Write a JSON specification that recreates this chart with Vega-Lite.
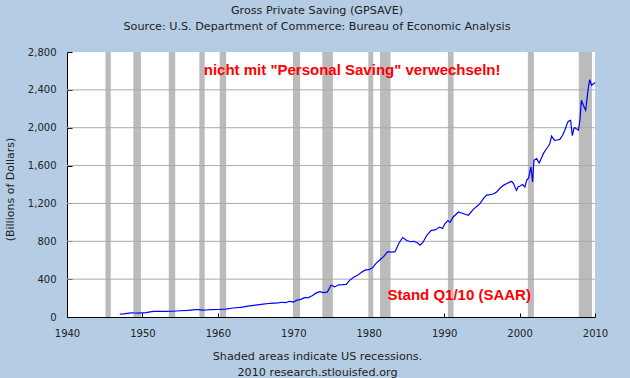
{
  "$schema": "https://vega.github.io/schema/vega-lite/v6.json",
  "autosize": {"type": "none"},
  "width": 528,
  "height": 265,
  "padding": {"left": 67, "top": 52, "right": 35, "bottom": 61},
  "background": "#B4CDE4",
  "title": {
    "text": ["Gross Private Saving (GPSAVE)", "Source: U.S. Department of Commerce: Bureau of Economic Analysis"],
    "font": "DejaVu Sans",
    "fontSize": 11.2,
    "fontWeight": "normal",
    "color": "#222222",
    "anchor": "middle",
    "frame": "group",
    "dx": -14,
    "offset": 15,
    "lineHeight": 16
  },
  "datasets": {
    "rec": [
      {"year": 1945.1, "year2": 1945.8},
      {"year": 1948.8, "year2": 1949.8},
      {"year": 1953.5, "year2": 1954.35},
      {"year": 1957.55, "year2": 1958.25},
      {"year": 1960.25, "year2": 1961.1},
      {"year": 1969.95, "year2": 1970.9},
      {"year": 1973.85, "year2": 1975.25},
      {"year": 1979.95, "year2": 1980.6},
      {"year": 1981.5, "year2": 1982.9},
      {"year": 1990.5, "year2": 1991.25},
      {"year": 2001.1, "year2": 2001.9},
      {"year": 2007.85, "year2": 2009.6}
    ],
    "grid": [
      {"value": 400}, {"value": 800}, {"value": 1200}, {"value": 1600},
      {"value": 2000}, {"value": 2400}
    ],
    "gps": [
      {"year": 1947.0, "value": 30}, {"year": 1947.5, "value": 33}, {"year": 1948.0, "value": 38},
      {"year": 1948.5, "value": 43}, {"year": 1949.0, "value": 42}, {"year": 1949.5, "value": 40},
      {"year": 1950.0, "value": 44}, {"year": 1950.5, "value": 47}, {"year": 1951.0, "value": 55},
      {"year": 1951.5, "value": 59}, {"year": 1952.0, "value": 59}, {"year": 1953.0, "value": 60},
      {"year": 1954.0, "value": 61}, {"year": 1955.0, "value": 66}, {"year": 1956.0, "value": 70},
      {"year": 1957.0, "value": 77}, {"year": 1957.5, "value": 78}, {"year": 1958.0, "value": 72},
      {"year": 1958.5, "value": 74}, {"year": 1959.0, "value": 78}, {"year": 1960.0, "value": 79},
      {"year": 1961.0, "value": 84}, {"year": 1962.0, "value": 95}, {"year": 1963.0, "value": 102},
      {"year": 1964.0, "value": 115}, {"year": 1965.0, "value": 125}, {"year": 1966.0, "value": 136},
      {"year": 1967.0, "value": 145}, {"year": 1968.0, "value": 150}, {"year": 1968.5, "value": 156},
      {"year": 1969.0, "value": 152}, {"year": 1969.5, "value": 166}, {"year": 1970.0, "value": 158},
      {"year": 1970.5, "value": 178}, {"year": 1971.0, "value": 186}, {"year": 1971.5, "value": 204},
      {"year": 1972.0, "value": 205}, {"year": 1972.5, "value": 224}, {"year": 1973.0, "value": 252},
      {"year": 1973.5, "value": 268}, {"year": 1974.0, "value": 258}, {"year": 1974.5, "value": 262},
      {"year": 1975.0, "value": 335}, {"year": 1975.5, "value": 318}, {"year": 1976.0, "value": 340},
      {"year": 1976.5, "value": 342}, {"year": 1977.0, "value": 345}, {"year": 1977.5, "value": 390},
      {"year": 1978.0, "value": 420}, {"year": 1978.5, "value": 440}, {"year": 1979.0, "value": 470},
      {"year": 1979.5, "value": 495}, {"year": 1980.0, "value": 500}, {"year": 1980.5, "value": 520},
      {"year": 1981.0, "value": 570}, {"year": 1981.5, "value": 605}, {"year": 1982.0, "value": 640},
      {"year": 1982.5, "value": 690}, {"year": 1983.0, "value": 685}, {"year": 1983.5, "value": 690},
      {"year": 1984.0, "value": 780}, {"year": 1984.5, "value": 840}, {"year": 1985.0, "value": 810},
      {"year": 1985.5, "value": 795}, {"year": 1986.0, "value": 800}, {"year": 1986.5, "value": 782},
      {"year": 1986.8, "value": 758}, {"year": 1987.2, "value": 790}, {"year": 1987.7, "value": 864},
      {"year": 1988.3, "value": 915}, {"year": 1988.8, "value": 920}, {"year": 1989.4, "value": 950},
      {"year": 1989.8, "value": 935}, {"year": 1990.1, "value": 985}, {"year": 1990.5, "value": 1020},
      {"year": 1990.8, "value": 1000}, {"year": 1991.2, "value": 1057}, {"year": 1991.9, "value": 1110},
      {"year": 1992.5, "value": 1093}, {"year": 1993.2, "value": 1075}, {"year": 1993.9, "value": 1140},
      {"year": 1994.5, "value": 1180}, {"year": 1994.75, "value": 1198}, {"year": 1995.2, "value": 1250},
      {"year": 1995.6, "value": 1286}, {"year": 1996.5, "value": 1300}, {"year": 1996.96, "value": 1321},
      {"year": 1997.4, "value": 1360}, {"year": 1997.85, "value": 1391}, {"year": 1998.3, "value": 1410},
      {"year": 1998.7, "value": 1425}, {"year": 1998.95, "value": 1434}, {"year": 1999.2, "value": 1410},
      {"year": 1999.4, "value": 1370}, {"year": 1999.6, "value": 1339}, {"year": 1999.8, "value": 1375},
      {"year": 2000.05, "value": 1384}, {"year": 2000.4, "value": 1400}, {"year": 2000.7, "value": 1373},
      {"year": 2000.94, "value": 1444}, {"year": 2001.2, "value": 1470}, {"year": 2001.5, "value": 1585},
      {"year": 2001.73, "value": 1426}, {"year": 2001.9, "value": 1656}, {"year": 2002.26, "value": 1673},
      {"year": 2002.6, "value": 1627}, {"year": 2002.9, "value": 1680}, {"year": 2003.15, "value": 1726},
      {"year": 2003.5, "value": 1770}, {"year": 2003.8, "value": 1804}, {"year": 2004.0, "value": 1830},
      {"year": 2004.25, "value": 1912}, {"year": 2004.5, "value": 1880}, {"year": 2004.7, "value": 1867},
      {"year": 2005.0, "value": 1870}, {"year": 2005.35, "value": 1877}, {"year": 2005.7, "value": 1920},
      {"year": 2006.0, "value": 1973}, {"year": 2006.25, "value": 2030}, {"year": 2006.46, "value": 2068},
      {"year": 2006.77, "value": 2078}, {"year": 2006.99, "value": 1917}, {"year": 2007.2, "value": 1990},
      {"year": 2007.34, "value": 2001}, {"year": 2007.6, "value": 1985}, {"year": 2007.8, "value": 1973},
      {"year": 2008.0, "value": 2078}, {"year": 2008.2, "value": 2290}, {"year": 2008.45, "value": 2237},
      {"year": 2008.76, "value": 2184}, {"year": 2009.1, "value": 2413}, {"year": 2009.3, "value": 2508},
      {"year": 2009.55, "value": 2448}, {"year": 2009.8, "value": 2465}, {"year": 2010.0, "value": 2477}
    ],
    "notes": [
      {"year": 1977.8, "value": 2560, "label": "nicht mit \"Personal Saving\" verwechseln!"},
      {"year": 1992.0, "value": 180, "label": "Stand Q1/10 (SAAR)"}
    ]
  },
  "layer": [
    {
      "data": {"name": "rec"},
      "mark": {"type": "rect", "color": "#BBBBBB", "opacity": 1},
      "encoding": {
        "x": {"field": "year", "type": "quantitative", "scale": {"domain": [1940, 2010], "nice": false, "zero": false},
          "axis": {
            "values": [1940, 1950, 1960, 1970, 1980, 1990, 2000, 2010],
            "format": "d",
            "grid": false,
            "domainColor": "#000000",
            "tickColor": "#000000",
            "tickSize": -4,
            "labelPadding": 15,
            "labelFont": "DejaVu Sans",
            "labelFontSize": 10,
            "labelColor": "#222222",
            "labelFlush": false,
            "labelOverlap": false,
            "title": ["Shaded areas indicate US recessions.", "2010 research.stlouisfed.org"],
            "titleFont": "DejaVu Sans",
            "titleFontSize": 11.2,
            "titleFontWeight": "normal",
            "titleColor": "#222222",
            "titleX": 250,
            "titleY": 33,
            "titleBaseline": "top",
            "titleAlign": "center",
            "titleAnchor": null,
            "titleLineHeight": 16
          }
        },
        "x2": {"field": "year2"}
      }
    },
    {
      "data": {"name": "grid"},
      "mark": {"type": "rule", "color": "#AAAAAA", "strokeWidth": 1},
      "encoding": {
        "y": {"field": "value", "type": "quantitative", "scale": {"domain": [0, 2800], "nice": false, "zero": true},
          "axis": {
            "values": [0, 400, 800, 1200, 1600, 2000, 2400, 2800],
            "format": ",d",
            "grid": false,
            "domainColor": "#000000",
            "tickColor": "#000000",
            "tickSize": -5,
            "labelPadding": 16,
            "labelOverlap": false,
            "labelFont": "DejaVu Sans",
            "labelFontSize": 10,
            "labelColor": "#222222",
            "title": "(Billions of Dollars)",
            "titleFont": "DejaVu Sans",
            "titleFontSize": 11,
            "titleFontWeight": "normal",
            "titleColor": "#222222",
            "titleAngle": -90,
            "titleX": -57,
            "titleY": 137,
            "titleAlign": "center",
            "titleBaseline": "middle",
            "titleAnchor": null
          }
        }
      }
    },
    {
      "data": {"name": "gps"},
      "mark": {"type": "line", "color": "#0000FF", "strokeWidth": 1.2},
      "encoding": {
        "x": {"field": "year", "type": "quantitative"},
        "y": {"field": "value", "type": "quantitative",
          "axis": {
            "values": [0, 400, 800, 1200, 1600, 2000, 2400, 2800],
            "format": ",d",
            "grid": false,
            "domainColor": "#000000",
            "tickColor": "#000000",
            "tickSize": -5,
            "labelPadding": 16,
            "labelOverlap": false,
            "labelFont": "DejaVu Sans",
            "labelFontSize": 10,
            "labelColor": "#222222",
            "title": "(Billions of Dollars)",
            "titleFont": "DejaVu Sans",
            "titleFontSize": 11,
            "titleFontWeight": "normal",
            "titleColor": "#222222",
            "titleAngle": -90,
            "titleX": -57,
            "titleY": 137,
            "titleAlign": "center",
            "titleBaseline": "middle",
            "titleAnchor": null
          }
        }
      }
    },
    {
      "data": {"name": "notes"},
      "mark": {"type": "text", "color": "#FF0000", "font": "Liberation Sans", "fontWeight": "bold", "fontSize": 15, "align": "center", "baseline": "alphabetic"},
      "encoding": {
        "x": {"field": "year", "type": "quantitative"},
        "y": {"field": "value", "type": "quantitative",
          "axis": {
            "values": [0, 400, 800, 1200, 1600, 2000, 2400, 2800],
            "format": ",d",
            "grid": false,
            "domainColor": "#000000",
            "tickColor": "#000000",
            "tickSize": -5,
            "labelPadding": 16,
            "labelOverlap": false,
            "labelFont": "DejaVu Sans",
            "labelFontSize": 10,
            "labelColor": "#222222",
            "title": "(Billions of Dollars)",
            "titleFont": "DejaVu Sans",
            "titleFontSize": 11,
            "titleFontWeight": "normal",
            "titleColor": "#222222",
            "titleAngle": -90,
            "titleX": -57,
            "titleY": 137,
            "titleAlign": "center",
            "titleBaseline": "middle",
            "titleAnchor": null
          }
        },
        "text": {"field": "label"}
      }
    }
  ],
  "config": {
    "view": {"fill": "#FFFFFF", "stroke": null}
  }
}
